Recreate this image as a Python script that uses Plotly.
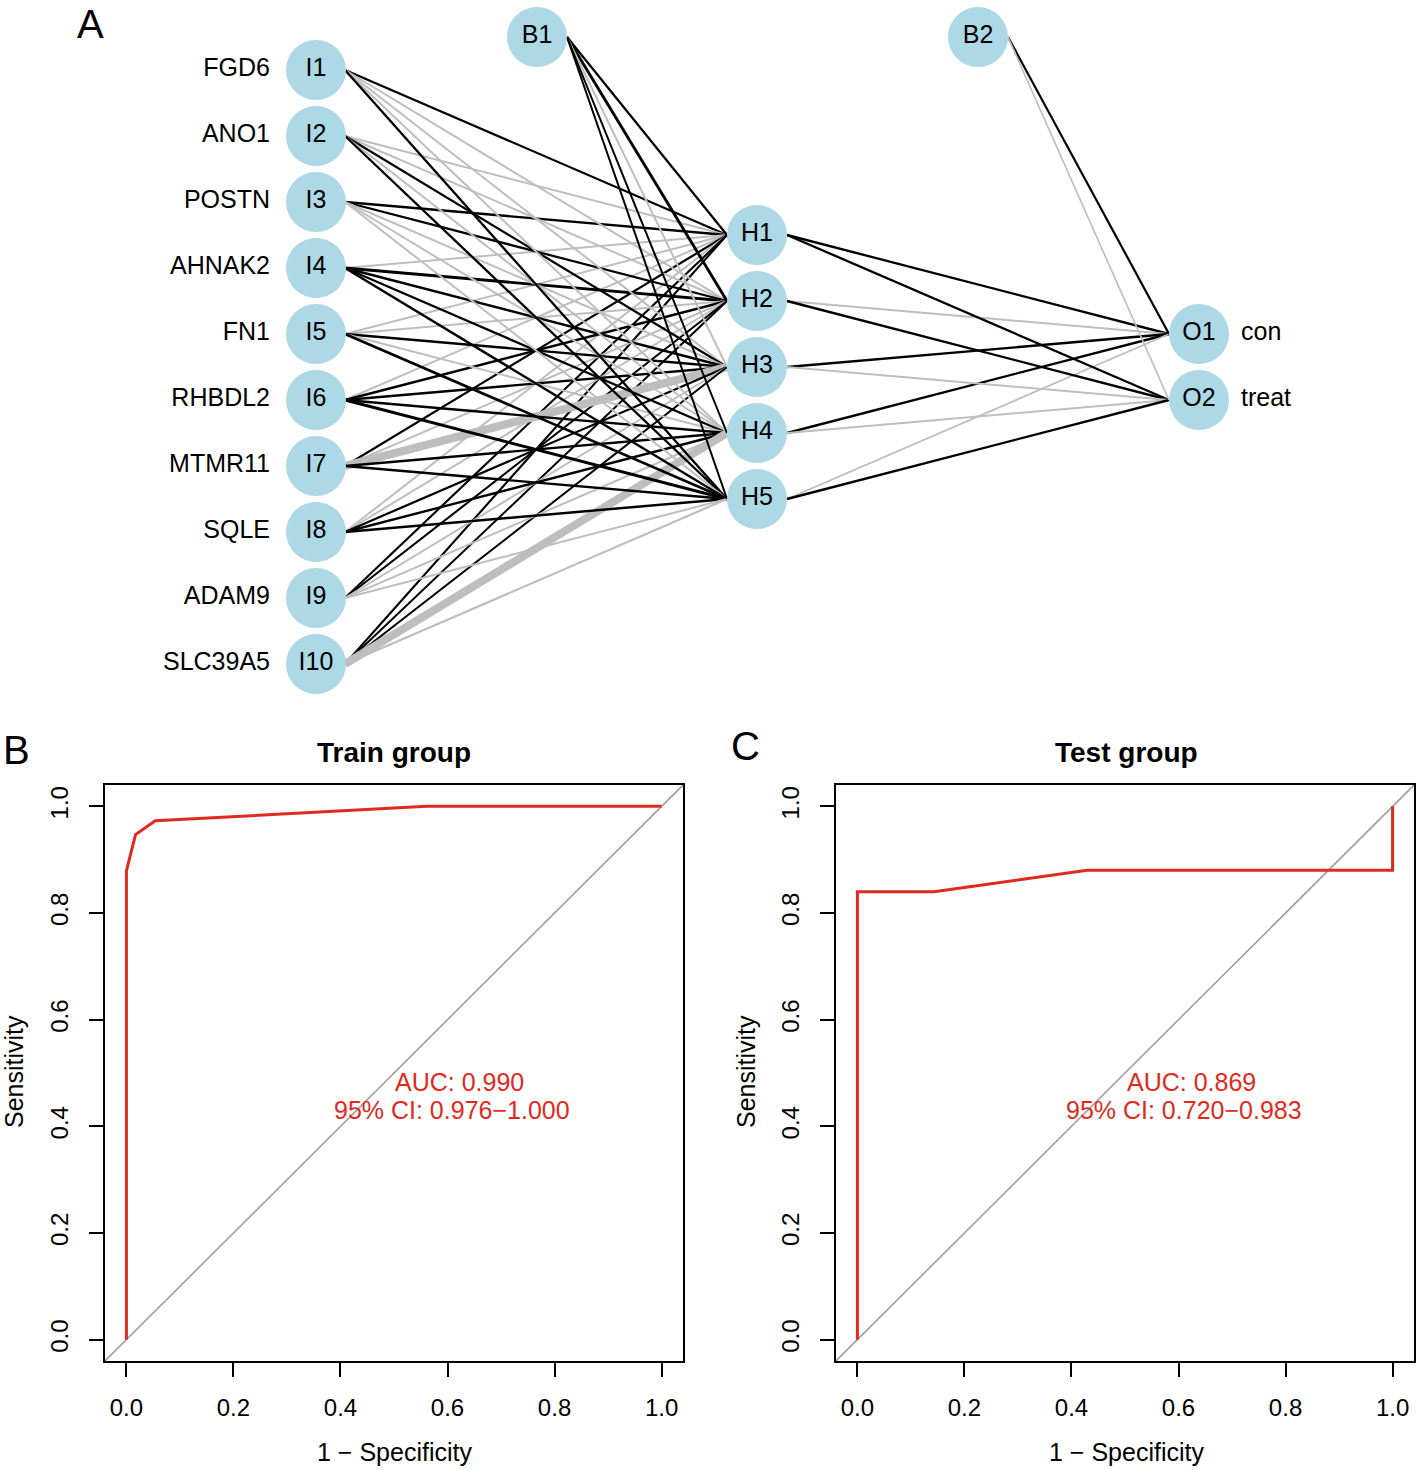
import plotly.graph_objects as go

W, H = 1416, 1470

# ---------------- data ----------------
genes = ["FGD6", "ANO1", "POSTN", "AHNAK2", "FN1", "RHBDL2", "MTMR11", "SQLE", "ADAM9", "SLC39A5"]
outputs = ["con", "treat"]
n_hidden = 5

# estimated network weights (sign -> colour, magnitude -> line width)
w_ih = [
    [1.2, -1.0, -1.0, -1.0, 1.3],
    [-1.0, -1.0, 1.2, -1.0, 1.3],
    [1.3, 1.2, -1.0, -1.0, -1.0],
    [-1.0, 1.8, 1.3, 1.3, 1.4],
    [-1.0, -1.0, 1.3, -1.0, 1.6],
    [-1.0, 1.3, 1.3, 1.3, 1.8],
    [1.2, -1.0, -6.5, 1.3, 1.3],
    [-1.0, -1.0, 1.2, 1.3, 1.4],
    [1.1, 1.1, -1.0, -1.0, -1.0],
    [1.1, 1.0, 1.0, -6.5, -1.2],
]
w_bh = [1.2, 1.8, -1.0, 1.0, 1.0]
w_ho = [[1.3, 1.3], [-1.0, 1.3], [1.3, -1.0], [1.3, -1.0], [-0.8, 1.3]]
w_bo = [1.2, -0.7]

train_fpr = [0.0, 0.0, 0.017, 0.054, 0.561, 1.0]
train_tpr = [0.0, 0.879, 0.947, 0.973, 1.0, 1.0]
test_fpr = [0.0, 0.0, 0.143, 0.429, 1.0, 1.0]
test_tpr = [0.0, 0.84, 0.84, 0.88, 0.88, 1.0]
train_auc = ["AUC: 0.990", "95% CI: 0.976\u22121.000"]
test_auc = ["AUC: 0.869", "95% CI: 0.720\u22120.983"]
tick_vals = [0.0, 0.2, 0.4, 0.6, 0.8, 1.0]
tick_text = ["0.0", "0.2", "0.4", "0.6", "0.8", "1.0"]

# ---------------- style / layout ----------------
FONT = "Liberation Sans, Arial, Helvetica, sans-serif"
NODE_COL = "#ADD8E6"
POS_COL = "black"
NEG_COL = "#BEBEBE"
RED = "#DF2A1E"

layer_x = [316, 757, 1199]
bias_x = [537, 978]
bias_y = 37
center_y = 367
spacing = 66
r = 30


def layer_ys(n):
    return [center_y + (k - (n - 1) / 2) * spacing for k in range(n)]


in_y = layer_ys(len(genes))
hid_y = layer_ys(n_hidden)
out_y = layer_ys(len(outputs))


def lw(w):
    return 0.9 + 1.1 * abs(w)


def col(w):
    return POS_COL if w > 0 else NEG_COL


fig = go.Figure()


def edge(x0, y0, x1, y1, w):
    fig.add_trace(go.Scatter(x=[x0, x1], y=[y0, y1], mode="lines",
                             line=dict(color=col(w), width=lw(w)),
                             hoverinfo="skip", xaxis="x", yaxis="y"))


# input -> hidden
for j in range(n_hidden):
    for i in range(len(genes)):
        edge(layer_x[0] + r - 1, in_y[i], layer_x[1] - r, hid_y[j], w_ih[i][j])
# bias1 -> hidden
for j in range(n_hidden):
    edge(bias_x[0] + r, bias_y, layer_x[1] - r, hid_y[j], w_bh[j])
# hidden -> output
for k in range(len(outputs)):
    for j in range(n_hidden):
        edge(layer_x[1] + r, hid_y[j], layer_x[2] - r, out_y[k], w_ho[j][k])
# bias2 -> output
for k in range(len(outputs)):
    edge(bias_x[1] + r, bias_y, layer_x[2] - r, out_y[k], w_bo[k])

# nodes
node_x = ([layer_x[0]] * len(genes) + [layer_x[1]] * n_hidden + [layer_x[2]] * len(outputs) + bias_x)
node_y = in_y + hid_y + out_y + [bias_y, bias_y]
node_t = ([f"I{i+1}" for i in range(len(genes))] + [f"H{j+1}" for j in range(n_hidden)]
          + [f"O{k+1}" for k in range(len(outputs))] + ["B1", "B2"])
fig.add_trace(go.Scatter(x=node_x, y=node_y, mode="markers+text", text=node_t,
                         textposition="middle center",
                         textfont=dict(family=FONT, size=25, color="black"),
                         marker=dict(size=2 * r, color=NODE_COL, line=dict(width=0)),
                         hoverinfo="skip", xaxis="x", yaxis="y"))
# input labels
fig.add_trace(go.Scatter(x=[layer_x[0] - 46] * len(genes), y=in_y, mode="text", text=genes,
                         textposition="middle left",
                         textfont=dict(family=FONT, size=25, color="black"),
                         hoverinfo="skip", xaxis="x", yaxis="y"))
# output labels
fig.add_trace(go.Scatter(x=[layer_x[2] + 42] * len(outputs), y=out_y, mode="text", text=outputs,
                         textposition="middle right",
                         textfont=dict(family=FONT, size=25, color="black"),
                         hoverinfo="skip", xaxis="x", yaxis="y"))

# ROC panels
for fpr, tpr, xa, ya in [(train_fpr, train_tpr, "x2", "y2"), (test_fpr, test_tpr, "x3", "y3")]:
    fig.add_trace(go.Scatter(x=[-0.04, 1.04], y=[-0.04, 1.04], mode="lines",
                             line=dict(color="#A0A0A0", width=1.6),
                             hoverinfo="skip", xaxis=xa, yaxis=ya))
    fig.add_trace(go.Scatter(x=fpr, y=tpr, mode="lines",
                             line=dict(color=RED, width=3),
                             hoverinfo="skip", xaxis=xa, yaxis=ya))


def pd_(x, y):
    return x / W, 1 - y / H


axis_roc = dict(range=[-0.04, 1.04], showgrid=False, zeroline=False, showline=True, mirror=True,
                linecolor="black", linewidth=2, ticks="outside", ticklen=14, tickwidth=2,
                tickcolor="black", tickvals=tick_vals, ticktext=tick_text,
                tickfont=dict(family=FONT, size=24, color="black"))

yb = [1 - 1361 / H, 1 - 785 / H]
layout = dict(
    width=W, height=H, margin=dict(l=0, r=0, t=0, b=0),
    paper_bgcolor="white", plot_bgcolor="white", showlegend=False,
    xaxis=dict(domain=[0, 1], range=[0, W], visible=False),
    yaxis=dict(domain=[1 - 700 / H, 1], range=[700, 0], visible=False),
    xaxis2=dict(domain=[105 / W, 683 / W], anchor="y2", ticklabelstandoff=10, **axis_roc),
    yaxis2=dict(domain=yb, anchor="x2", tickangle=-90, ticklabelstandoff=11, **axis_roc),
    xaxis3=dict(domain=[836 / W, 1414 / W], anchor="y3", ticklabelstandoff=10, **axis_roc),
    yaxis3=dict(domain=yb, anchor="x3", tickangle=-90, ticklabelstandoff=11, **axis_roc),
)
fig.update_layout(**layout)

ann = []


def text(x, y, s, size=25, color="black", angle=0, bold=False):
    xx, yy = pd_(x, y)
    ann.append(dict(x=xx, y=yy, xref="paper", yref="paper", text=(f"<b>{s}</b>" if bold else s),
                    showarrow=False, textangle=angle, xanchor="center", yanchor="middle",
                    font=dict(family=FONT, size=size, color=color)))


text(90, 24, "A", size=40)
text(16, 750, "B", size=40)
text(745, 746, "C", size=40)
text(394, 752, "Train group", size=28, bold=True)
text(1126, 752, "Test group", size=28, bold=True)
for cx, lx in [(394, 14), (1126, 746)]:
    text(lx, 1072, "Sensitivity", size=25, angle=-90)
    text(cx, 1452, "1 \u2212 Specificity", size=25)
for (l1, l2), cx in [(train_auc, 459), (test_auc, 1191)]:
    text(cx, 1082, l1, size=25, color=RED)
    text(cx - 7, 1110, l2, size=25, color=RED)
fig.update_layout(annotations=ann)

fig.write_html("out.html", config={"displayModeBar": False},
               post_script="document.body.style.margin='0';document.body.style.padding='0';")
